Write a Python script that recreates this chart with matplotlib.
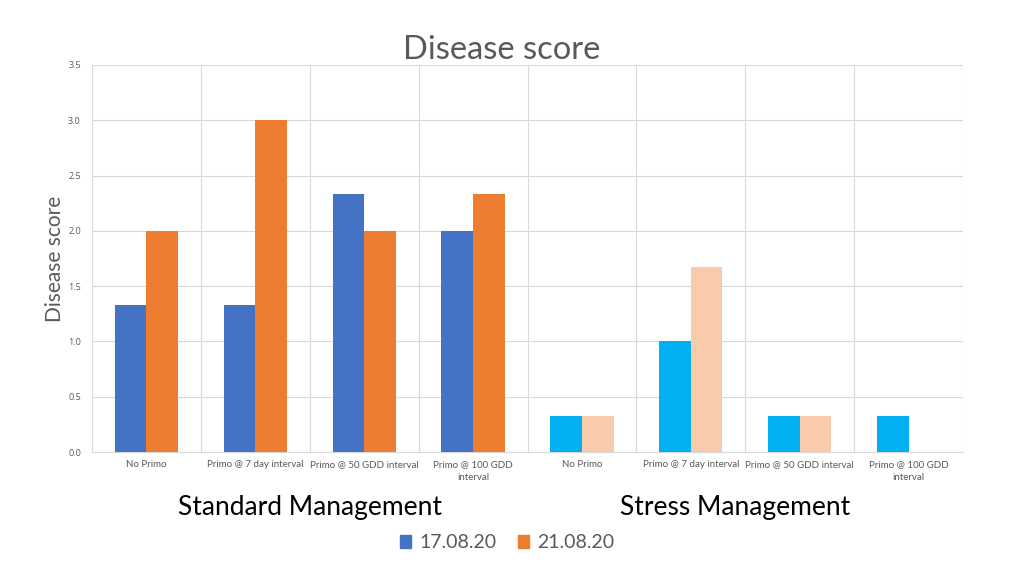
import numpy as np
import matplotlib
matplotlib.use("Agg")
import matplotlib.pyplot as plt
from matplotlib.patches import Patch

categories = ["No Primo", "Primo @ 7 day interval", "Primo @ 50 GDD interval", "Primo @ 100 GDD\ninterval",
              "No Primo", "Primo @ 7 day interval", "Primo @ 50 GDD interval", "Primo @ 100 GDD\ninterval"]
series1 = [1.33, 1.33, 2.33, 2.0, 0.33, 1.0, 0.33, 0.33]     # 17.08.20
series2 = [2.0, 3.0, 2.0, 2.33, 0.33, 1.67, 0.33, np.nan]    # 21.08.20
series_names = ["17.08.20", "21.08.20"]
group_names = ["Standard Management", "Stress Management"]
yticks = [0.0, 0.5, 1.0, 1.5, 2.0, 2.5, 3.0, 3.5]

plt.rcParams['font.family'] = ['Lato', 'DejaVu Sans']

fig = plt.figure(figsize=(10.24, 5.84), dpi=100)
ax = fig.add_axes([92/1024, 1-452/584, (963-92)/1024, (452-65)/584])

x = np.arange(len(categories))
w = 0.29
c1 = ["#4472C4"]*4 + ["#00B0F0"]*4
c2 = ["#ED7D31"]*4 + ["#F8CBAD"]*4
ax.bar(x - w/2, series1, width=w, color=c1, zorder=3)
ax.bar(x + w/2, series2, width=w, color=c2, zorder=3)

ax.set_xlim(-0.5, len(categories) - 0.5)
ax.set_ylim(0, 3.5)
ax.set_yticks(yticks)
ax.set_yticklabels([f"{t:.1f}" for t in yticks], fontsize=6.5, color="#595959", family=["Open Sans", "DejaVu Sans"])
ax.set_xticks(x)
ax.set_xticklabels(categories, fontsize=7, color="#595959", linespacing=1.5)
ax.set_xticks(np.arange(len(categories) + 1) - 0.5, minor=True)
ax.tick_params(axis='both', which='both', length=0)
ax.tick_params(axis='x', pad=6)
ax.tick_params(axis='y', pad=8)
ax.grid(axis='y', which='major', color="#D9D9D9", linewidth=0.8, zorder=0)
ax.grid(axis='x', which='minor', color="#D9D9D9", linewidth=0.8, zorder=0)
ax.grid(axis='x', which='major', visible=False)
for s in ['top', 'right', 'left']:
    ax.spines[s].set_visible(False)
ax.spines['bottom'].set_color("#D9D9D9")

ax.set_ylabel("Disease score", fontsize=15, color="#595959", labelpad=2)
fig.text(502/1024, 1-50/584, "Disease score", ha='center', va='center', fontsize=23.5, color="#595959")

fig.text(310/1024, 1-507/584, group_names[0], ha='center', va='center', fontsize=19, color="black")
fig.text(735/1024, 1-507/584, group_names[1], ha='center', va='center', fontsize=19, color="black")

handles = [Patch(color="#4472C4", label=series_names[0]), Patch(color="#ED7D31", label=series_names[1])]
fig.legend(handles=handles, loc='center', bbox_to_anchor=(507/1024, 1-543/584), ncol=2, frameon=False,
           fontsize=14, labelcolor="#595959", handlelength=0.6, handleheight=0.6, handletextpad=0.4, columnspacing=1.1)

fig.savefig("out.png", dpi=100)
